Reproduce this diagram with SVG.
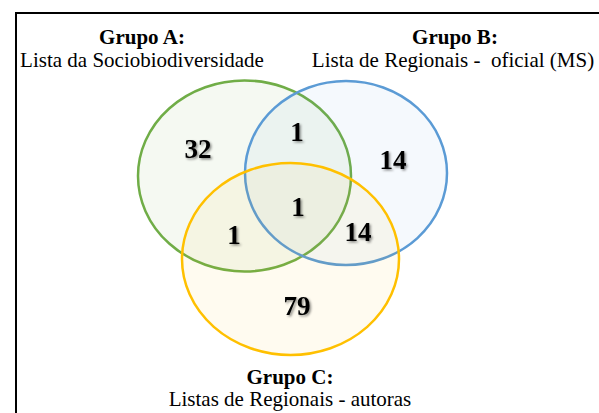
<svg xmlns="http://www.w3.org/2000/svg" width="599" height="413" viewBox="0 0 599 413">
<defs>
<filter id="sh" x="-30%" y="-30%" width="160%" height="160%">
<feDropShadow dx="1.5" dy="1.5" stdDeviation="1.2" flood-color="#000" flood-opacity="0.45"/>
</filter>
<style>
.t{font-family:"Liberation Serif","Times New Roman",serif;fill:#000;text-anchor:middle}
.h{font-size:21px;font-weight:bold}
.s{font-size:21px}
.n{font-family:"Liberation Serif","Times New Roman",serif;font-size:27px;font-weight:bold;fill:#000;text-anchor:middle;filter:url(#sh)}
.e{stroke-width:2.5}
</style>
</defs>
<rect x="0" y="0" width="599" height="413" fill="#fff"/>
<path d="M16 413 V13 H599" fill="none" stroke="#000" stroke-width="2"/>
<g id="setA">
<ellipse class="e" cx="244.5" cy="176" rx="106.5" ry="95.5" fill="#70AD47" fill-opacity="0.07" stroke="#70AD47"/>
</g>
<g id="setB">
<ellipse class="e" cx="346" cy="173" rx="101" ry="92" fill="#5B9BD5" fill-opacity="0.06" stroke="#5B9BD5"/>
</g>
<g id="setC">
<ellipse class="e" cx="290.5" cy="259" rx="108.5" ry="96" fill="#FFC000" fill-opacity="0.06" stroke="#FFC000"/>
</g>
<g id="labels">
<text class="t h" x="142" y="44">Grupo A:</text>
<text class="t s" x="142" y="67">Lista da Sociobiodiversidade</text>
<text class="t h" x="455" y="44">Grupo B:</text>
<text class="t s" x="453" y="67" xml:space="preserve">Lista de Regionais -  oficial (MS)</text>
<text class="t h" x="290" y="384">Grupo C:</text>
<text class="t s" x="290" y="406">Listas de Regionais - autoras</text>
</g>
<g id="counts">
<text class="n" x="198" y="158">32</text>
<text class="n" x="297" y="141">1</text>
<text class="n" x="393" y="169">14</text>
<text class="n" x="298" y="216">1</text>
<text class="n" x="234" y="244">1</text>
<text class="n" x="358" y="241">14</text>
<text class="n" x="297" y="315">79</text>
</g>
</svg>
